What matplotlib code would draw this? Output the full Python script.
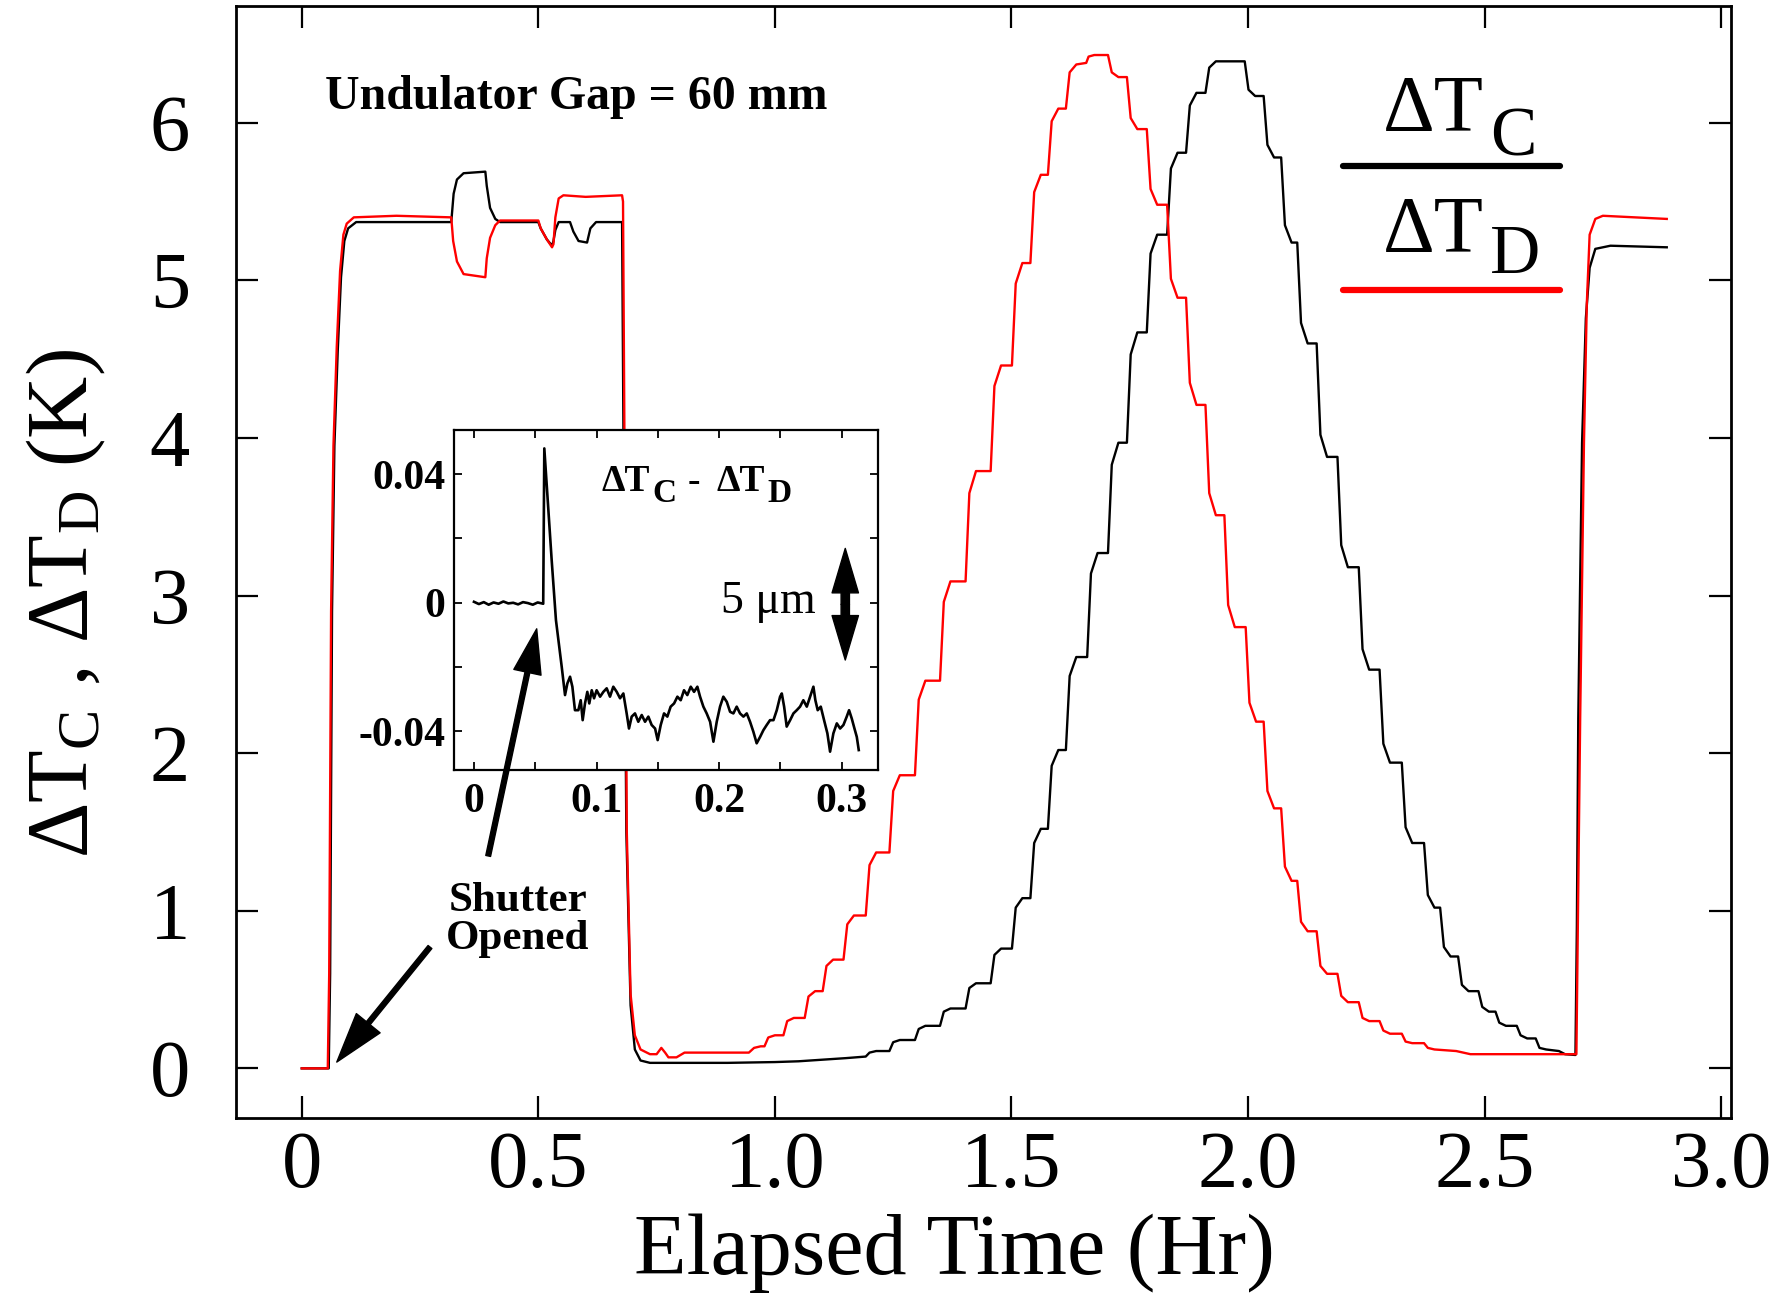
import matplotlib
matplotlib.use("Agg")
import matplotlib.pyplot as plt

plt.rcParams['font.family'] = ['Liberation Serif', 'DejaVu Serif']
plt.rcParams['mathtext.fontset'] = 'custom'
plt.rcParams['mathtext.rm'] = 'Liberation Serif'
plt.rcParams['mathtext.it'] = 'Liberation Serif:italic'
plt.rcParams['mathtext.bf'] = 'Liberation Serif:bold'
plt.rcParams['axes.unicode_minus'] = False

# ---- main plot data ----
# Delta T_C (black)
t_c = [0.000, 0.057, 0.060, 0.064, 0.069, 0.076, 0.083, 0.090, 0.098, 0.115,
       0.316, 0.321, 0.328, 0.342, 0.388, 0.391, 0.398, 0.409, 0.419, 0.500,
       0.505, 0.518, 0.529, 0.532, 0.536, 0.543, 0.567, 0.574, 0.585, 0.603,
       0.610, 0.622, 0.677,
       0.680, 0.686, 0.695, 0.704, 0.716, 0.736, 0.800, 0.900, 1.000, 1.050,
       1.100, 1.150, 1.192,
       1.200, 1.214, 1.242, 1.250, 1.264, 1.296, 1.304, 1.318, 1.349,
       1.357, 1.371, 1.403, 1.411, 1.425, 1.456, 1.464, 1.478, 1.501,
       1.509, 1.523, 1.540, 1.548, 1.562, 1.577, 1.585, 1.599, 1.615,
       1.623, 1.637, 1.660, 1.668, 1.682, 1.704, 1.712, 1.726, 1.744,
       1.752, 1.766, 1.786, 1.794, 1.808, 1.829, 1.837, 1.851, 1.869,
       1.877, 1.891, 1.910, 1.918, 1.932, 1.993,
       2.001, 2.015, 2.033, 2.041, 2.055, 2.070, 2.078, 2.092, 2.104,
       2.112, 2.126, 2.145, 2.153, 2.167, 2.189, 2.197, 2.211, 2.234,
       2.242, 2.256, 2.278, 2.286, 2.300, 2.325, 2.333, 2.347, 2.372,
       2.380, 2.394, 2.406, 2.414, 2.428, 2.444, 2.452, 2.466, 2.487,
       2.495, 2.509, 2.523, 2.531, 2.545, 2.568, 2.576, 2.590, 2.608,
       2.616, 2.630, 2.657, 2.670, 2.692,
       2.695, 2.698, 2.706, 2.714, 2.722, 2.734, 2.766, 2.885]
dT_c = [0.00, 0.00, 0.60, 2.90, 3.95, 4.55, 5.02, 5.25, 5.33, 5.37,
        5.37, 5.55, 5.64, 5.68, 5.69, 5.60, 5.46, 5.39, 5.37, 5.37,
        5.33, 5.26, 5.22, 5.25, 5.32, 5.37, 5.37, 5.31, 5.25, 5.24,
        5.33, 5.37, 5.37,
        4.00, 1.50, 0.40, 0.12, 0.05, 0.035, 0.035, 0.035, 0.04, 0.045,
        0.055, 0.065, 0.075,
        0.10, 0.11, 0.11, 0.166, 0.18, 0.18, 0.25, 0.27, 0.27,
        0.36, 0.38, 0.38, 0.51, 0.54, 0.54, 0.72, 0.76, 0.76,
        1.02, 1.08, 1.08, 1.43, 1.52, 1.52, 1.92, 2.02, 2.02,
        2.49, 2.61, 2.61, 3.14, 3.27, 3.27, 3.83, 3.97, 3.97,
        4.53, 4.67, 4.67, 5.17, 5.29, 5.29, 5.71, 5.81, 5.81,
        6.11, 6.19, 6.19, 6.35, 6.39, 6.39,
        6.21, 6.17, 6.17, 5.86, 5.78, 5.78, 5.35, 5.24, 5.24,
        4.73, 4.60, 4.60, 4.02, 3.88, 3.88, 3.32, 3.18, 3.18,
        2.66, 2.53, 2.53, 2.06, 1.94, 1.94, 1.53, 1.43, 1.43,
        1.10, 1.02, 1.02, 0.77, 0.71, 0.71, 0.53, 0.49, 0.49,
        0.39, 0.36, 0.36, 0.29, 0.27, 0.27, 0.21, 0.19, 0.19,
        0.13, 0.12, 0.11, 0.09, 0.085,
        0.90, 2.22, 3.97, 4.76, 5.08, 5.20, 5.22, 5.21]

# Delta T_D (red)
t_d = [0.000, 0.055, 0.058, 0.062, 0.067, 0.074, 0.081, 0.088, 0.095, 0.110,
       0.200, 0.316, 0.320, 0.328, 0.342, 0.388, 0.391, 0.398, 0.409, 0.419,
       0.500, 0.505, 0.518, 0.529, 0.532, 0.536, 0.543, 0.553, 0.600, 0.677,
       0.679, 0.682, 0.687, 0.695, 0.704, 0.716, 0.736, 0.750, 0.760, 0.768,
       0.775, 0.792, 0.809, 0.945,
       0.956, 0.970, 0.978, 0.986, 1.000, 1.018, 1.026, 1.040, 1.063,
       1.071, 1.085, 1.101, 1.109, 1.123, 1.145, 1.153, 1.167, 1.192,
       1.200, 1.214, 1.242, 1.250, 1.264, 1.296, 1.304, 1.318, 1.349,
       1.357, 1.371, 1.403, 1.411, 1.425, 1.456, 1.464, 1.478, 1.501,
       1.509, 1.523, 1.540, 1.548, 1.562, 1.577, 1.585, 1.599, 1.615,
       1.623, 1.637, 1.658, 1.663, 1.675, 1.704,
       1.712, 1.726, 1.744, 1.752, 1.766, 1.786, 1.794, 1.808, 1.829,
       1.837, 1.851, 1.869, 1.877, 1.891, 1.910, 1.918, 1.932, 1.950,
       1.958, 1.972, 1.995, 2.003, 2.017, 2.033, 2.041, 2.055, 2.070,
       2.078, 2.092, 2.104, 2.112, 2.126, 2.145, 2.153, 2.167, 2.189,
       2.197, 2.211, 2.234, 2.242, 2.256, 2.278, 2.286, 2.300, 2.325,
       2.333, 2.347, 2.372, 2.380, 2.394, 2.440, 2.470, 2.694,
       2.697, 2.702, 2.710, 2.716, 2.722, 2.734, 2.750, 2.885]
dT_d = [0.00, 0.00, 0.60, 2.90, 3.95, 4.58, 5.06, 5.29, 5.36, 5.40,
        5.41, 5.40, 5.25, 5.12, 5.04, 5.02, 5.14, 5.27, 5.35, 5.38,
        5.38, 5.33, 5.26, 5.21, 5.23, 5.40, 5.52, 5.54, 5.53, 5.54,
        5.50, 4.00, 1.50, 0.47, 0.21, 0.12, 0.09, 0.09, 0.13, 0.10,
        0.07, 0.07, 0.10, 0.10,
        0.13, 0.14, 0.14, 0.196, 0.21, 0.21, 0.30, 0.32, 0.32,
        0.456, 0.49, 0.49, 0.65, 0.69, 0.69, 0.914, 0.97, 0.97,
        1.29, 1.37, 1.37, 1.76, 1.86, 1.86, 2.34, 2.46, 2.46,
        2.96, 3.09, 3.09, 3.65, 3.79, 3.79, 4.33, 4.46, 4.46,
        4.98, 5.11, 5.11, 5.56, 5.67, 5.67, 6.01, 6.09, 6.09,
        6.32, 6.37, 6.38, 6.42, 6.43, 6.43,
        6.32, 6.29, 6.29, 6.03, 5.96, 5.96, 5.58, 5.48, 5.48,
        5.01, 4.89, 4.89, 4.35, 4.21, 4.21, 3.65, 3.51, 3.51,
        2.94, 2.80, 2.80, 2.32, 2.20, 2.20, 1.76, 1.65, 1.65,
        1.28, 1.19, 1.19, 0.93, 0.87, 0.87, 0.65, 0.60, 0.60,
        0.46, 0.42, 0.42, 0.32, 0.30, 0.30, 0.24, 0.22, 0.22,
        0.17, 0.16, 0.16, 0.13, 0.12, 0.11, 0.09, 0.09,
        0.90, 2.22, 3.97, 4.85, 5.29, 5.39, 5.41, 5.39]

# ---- inset data: Delta T_C - Delta T_D ----
t_inset = [0.000, 0.004, 0.008, 0.012, 0.016, 0.020, 0.024, 0.028, 0.032, 0.036,
           0.040, 0.044, 0.048, 0.052, 0.0565, 0.0574, 0.0634, 0.0669, 0.0716, 0.0743,
           0.0762, 0.0784, 0.0803, 0.0824, 0.0852, 0.0871, 0.0887, 0.0906, 0.0925, 0.0941,
           0.0961, 0.0980, 0.1001, 0.1029, 0.1056, 0.1083, 0.1110, 0.1137, 0.1165, 0.1192,
           0.1219, 0.1246, 0.1265, 0.1287, 0.1314, 0.1341, 0.1369, 0.1396, 0.1423, 0.1450,
           0.1478, 0.1499, 0.1524, 0.1551, 0.1578, 0.1605, 0.1633, 0.1660, 0.1687, 0.1714,
           0.1741, 0.1769, 0.1796, 0.1823, 0.1845, 0.1872, 0.1899, 0.1927, 0.1954, 0.1981,
           0.2008, 0.2035, 0.2063, 0.2090, 0.2117, 0.2144, 0.2171, 0.2199, 0.2226, 0.2253,
           0.2280, 0.2307, 0.2335, 0.2362, 0.2389, 0.2416, 0.2444, 0.2471, 0.2498, 0.2512,
           0.2531, 0.2552, 0.2580, 0.2607, 0.2634, 0.2661, 0.2688, 0.2716, 0.2743, 0.2770,
           0.2786, 0.2805, 0.2830, 0.2857, 0.2884, 0.2906, 0.2933, 0.2961, 0.2988, 0.3015,
           0.3042, 0.3061, 0.3083, 0.3105, 0.3124, 0.3140]
diff_inset = [0.0003, -0.0004, 0.0002, -0.0006, 0.0001, -0.0003, 0.0004, -0.0002, 0.0000, -0.0005,
              0.0002, -0.0001, -0.0006, 0.0001, -0.0003, 0.0480, 0.0133, -0.0054, -0.0199, -0.0287,
              -0.0251, -0.0230, -0.0261, -0.0334, -0.0334, -0.0303, -0.0365, -0.0313, -0.0277, -0.0313,
              -0.0272, -0.0297, -0.0272, -0.0292, -0.0277, -0.0266, -0.0292, -0.0261, -0.0277, -0.0297,
              -0.0282, -0.0344, -0.0391, -0.0354, -0.0344, -0.0370, -0.0349, -0.0370, -0.0354, -0.0380,
              -0.0391, -0.0427, -0.0380, -0.0344, -0.0354, -0.0323, -0.0313, -0.0292, -0.0303, -0.0272,
              -0.0287, -0.0261, -0.0277, -0.0261, -0.0292, -0.0323, -0.0344, -0.0370, -0.0432, -0.0370,
              -0.0323, -0.0292, -0.0308, -0.0339, -0.0344, -0.0323, -0.0344, -0.0354, -0.0344, -0.0370,
              -0.0401, -0.0437, -0.0417, -0.0396, -0.0380, -0.0365, -0.0365, -0.0334, -0.0292, -0.0282,
              -0.0323, -0.0385, -0.0365, -0.0344, -0.0334, -0.0323, -0.0303, -0.0323, -0.0292, -0.0261,
              -0.0303, -0.0334, -0.0323, -0.0365, -0.0406, -0.0463, -0.0406, -0.0375, -0.0391, -0.0380,
              -0.0354, -0.0334, -0.0360, -0.0391, -0.0417, -0.0458]

x_ticks = [0, 0.5, 1.0, 1.5, 2.0, 2.5, 3.0]
x_ticklabels = ['0', '0.5', '1.0', '1.5', '2.0', '2.5', '3.0']
y_ticks = [0, 1, 2, 3, 4, 5, 6]
in_xticks = [0, 0.1, 0.2, 0.3]
in_xticklabels = ['0', '0.1', '0.2', '0.3']
in_yticks = [-0.04, 0, 0.04]
in_yticklabels = ['-0.04', '0', '0.04']

fig = plt.figure(figsize=(17.86, 12.95), dpi=100)
ax = fig.add_axes([0.132, 0.1363, 0.837, 0.8593])

ax.plot(t_c, dT_c, color='black', lw=1.7)
ax.plot(t_d, dT_d, color='red', lw=1.7)

ax.set_xlim(-0.1395, 3.02)
ax.set_ylim(-0.318, 6.743)
ax.set_xticks(x_ticks)
ax.set_xticklabels(x_ticklabels)
ax.set_yticks(y_ticks)
ax.tick_params(direction='in', top=True, right=True, length=16, width=1.6,
               labelsize=58)
ax.tick_params(axis='y', pad=33)
ax.tick_params(axis='x', pad=9)
for s in ax.spines.values():
    s.set_linewidth(2)

ax.set_xlabel('Elapsed Time (Hr)', fontsize=62)
ax.xaxis.set_label_coords(0.481, -0.085)
ax.set_ylabel(r'ΔT$_\mathrm{C}$ , ΔT$_\mathrm{D}$ (K)', fontsize=62)
ax.yaxis.set_label_coords(-0.0855, 0.463)

ax.text(0.05, 6.087, 'Undulator Gap = 60 mm', fontsize=34.5, fontweight='bold')

# legend drawn by hand
ax.text(2.285, 5.95, 'ΔT', fontsize=58, va='baseline')
ax.text(2.512, 5.795, 'C', fontsize=50, va='baseline')
ax.plot([2.201, 2.659], [5.726, 5.726], color='black', lw=4.5, solid_capstyle='round')
ax.text(2.285, 5.183, 'ΔT', fontsize=58, va='baseline')
ax.text(2.512, 5.046, 'D', fontsize=50, va='baseline')
ax.plot([2.201, 2.659], [4.939, 4.939], color='red', lw=4.5, solid_capstyle='round')

ax.text(0.457, 0.759, 'Shutter\nOpened', fontsize=31, fontweight='bold',
        ha='center', va='baseline', linespacing=1.0)
ax.annotate('', xy=(0.074, 0.04), xytext=(0.271, 0.77),
            arrowprops=dict(facecolor='black', edgecolor='black', width=3.5,
                            headwidth=22, headlength=36, shrink=0))

# ---- inset ----
ax_in = fig.add_axes([0.2542, 0.4054, 0.2376, 0.2625])
ax_in.plot(t_inset, diff_inset, color='black', lw=1.9)
ax_in.set_xlim(-0.0163, 0.330)
ax_in.set_ylim(-0.052, 0.0537)
ax_in.set_xticks(in_xticks)
ax_in.set_xticklabels(in_xticklabels)
ax_in.set_xticks([0.05, 0.15, 0.25], minor=True)
ax_in.set_yticks(in_yticks)
ax_in.set_yticklabels(in_yticklabels)
ax_in.set_yticks([-0.02, 0.02], minor=True)
ax_in.tick_params(which='both', direction='in', top=True, right=True,
                  length=6, width=1.3, labelsize=30)
ax_in.tick_params(axis='y', pad=6)
ax_in.tick_params(axis='x', pad=9)
for lab in ax_in.get_xticklabels() + ax_in.get_yticklabels():
    lab.set_fontweight('bold')
for s in ax_in.spines.values():
    s.set_linewidth(1.6)

ax_in.text(0.1042, 0.0348, 'ΔT', fontsize=27, fontweight='bold')
ax_in.text(0.1456, 0.0314, 'C', fontsize=24, fontweight='bold')
ax_in.text(0.1741, 0.0348, '-', fontsize=27, fontweight='bold')
ax_in.text(0.1981, 0.0348, 'ΔT', fontsize=27, fontweight='bold')
ax_in.text(0.2395, 0.0314, 'D', fontsize=24, fontweight='bold')

ax_in.text(0.279, -0.0031, '5 μm', fontsize=33, ha='right')
arrow_kw = dict(facecolor='black', edgecolor='black', width=6,
                headwidth=19, headlength=32, shrink=0)
ax_in.annotate('', xy=(0.303, 0.0169), xytext=(0.303, -0.0005), arrowprops=arrow_kw)
ax_in.annotate('', xy=(0.303, -0.0178), xytext=(0.303, -0.0005), arrowprops=arrow_kw)

# arrow from "Shutter Opened" into the inset
ax_in.annotate('', xy=(0.0512, -0.0081), xycoords='data',
               xytext=(0.394, 1.348), textcoords=ax.transData,
               annotation_clip=False,
               arrowprops=dict(facecolor='black', edgecolor='black', width=3.5,
                               headwidth=20, headlength=32, shrink=0))

fig.savefig('out.png', dpi=100)
